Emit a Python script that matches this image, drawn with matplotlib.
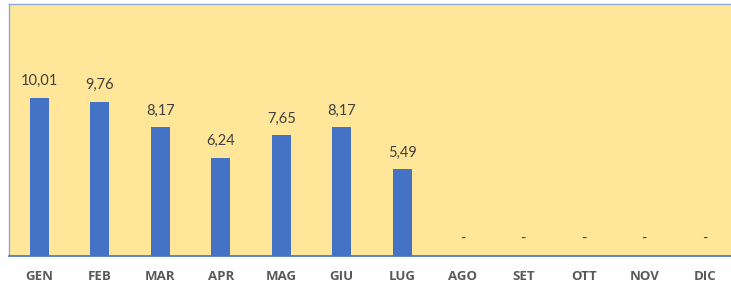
import matplotlib.pyplot as plt

months = ['GEN', 'FEB', 'MAR', 'APR', 'MAG', 'GIU', 'LUG', 'AGO', 'SET', 'OTT', 'NOV', 'DIC']
values = [10.01, 9.76, 8.17, 6.24, 7.65, 8.17, 5.49, 0, 0, 0, 0, 0]

plt.rcParams['font.family'] = ['Lato', 'DejaVu Sans']

fig = plt.figure(figsize=(7.31, 2.88), dpi=100)
ax = fig.add_axes([9 / 731, 32 / 288, 726 / 731, 252 / 288])
ax.set_facecolor('#FFE699')

x = range(len(months))
ax.bar(x, values, width=0.31, color='#4472C4', zorder=2)

for i, v in zip(x, values):
    lbl = f'{v:.2f}'.replace('.', ',') if v else '-'
    ax.annotate(lbl, (i, v), xytext=(0, 12), textcoords='offset points',
                ha='center', va='center', fontsize=10.5, color='#404040')

ax.set_xlim(-0.5, 11.5)
ax.set_ylim(0, 15.97)
ax.set_yticks([])
ax.set_xticks(list(x))
ax.set_xticklabels(months, fontsize=9.5, fontweight='bold', color='#595959',
                   family=['Open Sans', 'DejaVu Sans'])
ax.tick_params(axis='x', length=0, pad=10)

for s in ['top', 'left', 'right']:
    ax.spines[s].set_color('#8EA9DB')
    ax.spines[s].set_linewidth(1)
ax.spines['bottom'].set_color('#4472C4')
ax.spines['bottom'].set_linewidth(1.2)

fig.savefig('out.png', dpi=100)
